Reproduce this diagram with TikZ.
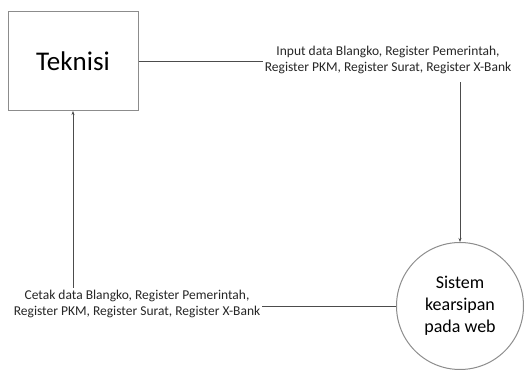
\documentclass[tikz,border=0pt]{standalone}
\usepackage{fontspec}
\setmainfont{Carlito}
\usetikzlibrary{arrows.meta,positioning,shapes.geometric}
\tikzset{>=Stealth}

\begin{document}
\begin{tikzpicture}[
    x=1pt, y=-1pt,
    entity/.style={draw=gray!90, line width=1pt, minimum width=130pt, minimum height=99pt,
                   font=\fontsize{27}{30}\selectfont},
    proc/.style={draw=gray!90, line width=1pt, circle, minimum size=127pt, inner sep=0pt,
                 align=center, font=\fontsize{18}{22}\selectfont},
    flow/.style={font=\fontsize{13.5}{16}\selectfont, align=center, inner sep=2pt, text=black!85},
    arr/.style={->, >={Stealth[length=4pt,width=3pt]}, draw=black!70, line width=0.9pt},
    ln/.style={draw=black!70, line width=0.9pt}
  ]
    \useasboundingbox (0,0) rectangle (531,371);
    \node[entity] (teknisi) at (73,61) {Teknisi};
    \node[proc] (sistem) at (460,306) {Sistem\\kearsipan\\pada web};
    \node[flow] (input) at (388,60) {Input data Blangko, Register Pemerintah,\\Register PKM, Register Surat, Register X-Bank};
    \node[flow] (cetak) at (137,304) {Cetak data Blangko, Register Pemerintah,\\Register PKM, Register Surat, Register X-Bank};

    \draw[ln] (teknisi.east) -- (teknisi.east -| input.west);
    \draw[arr] ([yshift=-6pt]input.south -| sistem.north) -- (sistem.north);
    \draw[ln] (sistem.west) -- (sistem.west -| cetak.east);
    \draw[arr] (cetak.north -| teknisi.south) -- (teknisi.south);
  \end{tikzpicture}
\end{document}
